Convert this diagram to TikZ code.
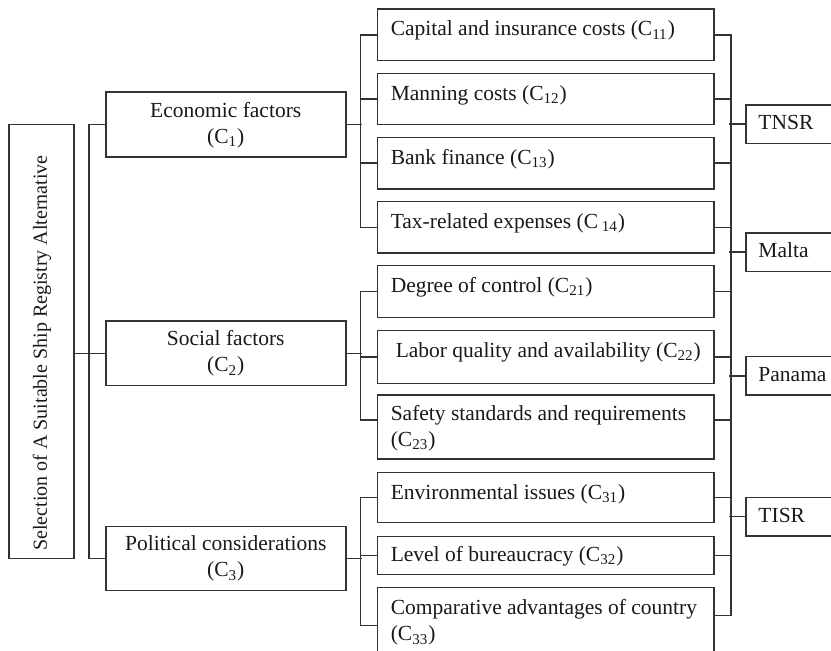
\documentclass[tikz,border=0pt]{standalone}
\usepackage{fontspec}
\setmainfont{Liberation Serif}
\usetikzlibrary{calc}
\newcommand{\figfont}{\fontsize{10.75pt}{13pt}\selectfont}
\newcommand{\rootfont}{\fontsize{10pt}{12pt}\selectfont}
\newcommand{\sbs}[1]{\textsubscript{#1}}
\begin{document}
\begin{tikzpicture}[x=0.5pt,y=-0.5pt,
  line width=0.75pt,
  box/.style={draw=black!80, line width=0.75pt, rectangle, inner sep=0pt, anchor=north west, text=black!90, font=\figfont},
  cbox/.style={box, minimum width=168.3pt, minimum height=#1*0.5pt},
  fbox/.style={box, minimum width=120pt, minimum height=#1*0.5pt, align=center},
  kbox/.style={box, minimum width=60pt, minimum height=19.2pt},
  lbl/.style={anchor=base west, inner sep=0pt, text=black!90, font=\figfont},
  conn/.style={draw=black!80, line width=0.75pt}
]
\useasboundingbox (0,0) rectangle (831,651);

% root
\node[box, minimum width=32.5pt, minimum height=217pt] (root) at (8.3,124) {};
\node[rotate=90, inner sep=0pt, text=black!90, font=\rootfont] (roottext) at (42,353) {Selection of A Suitable Ship Registry Alternative};

% factors
\node[fbox=65] (eco) at (105,91.5) {Economic factors\\(C\sbs{1})};
\node[fbox=64.5] (soc) at (105,320.5) {Social factors\\(C\sbs{2})};
\node[fbox=64] (pol) at (105,526) {Political considerations\\(C\sbs{3})};

% sub-criteria boxes
\node[cbox=51.7] (c11) at (376.7,8.3) {};
\node[cbox=51.3] (c12) at (376.7,72.7) {};
\node[cbox=51.6] (c13) at (376.7,136.7) {};
\node[cbox=51.3] (c14) at (376.7,201) {};
\node[cbox=51.7] (c21) at (376.7,265) {};
\node[cbox=52.7] (c22) at (376.7,330) {};
\node[cbox=64] (c23) at (376.7,394.3) {};
\node[cbox=50] (c31) at (376.7,471.7) {};
\node[cbox=38] (c32) at (376.7,536) {};
\node[cbox=76.6] (c33) at (376.7,586.7) {};

% sub-criteria texts
\node[lbl] (t11) at ($(c11.north west)+(13.3,27.7)$) {Capital and insurance costs (C\sbs{11})};
\node[lbl] (t12) at ($(c12.north west)+(13.3,27.7)$) {Manning costs (C\sbs{12})};
\node[lbl] (t13) at ($(c13.north west)+(13.3,27.7)$) {Bank finance (C\sbs{13})};
\node[lbl] (t14) at ($(c14.north west)+(13.3,27.7)$) {Tax-related expenses (C\,\sbs{14})};
\node[lbl] (t21) at ($(c21.north west)+(13.3,27.7)$) {Degree of control (C\sbs{21})};
\node[lbl] (t22) at ($(c22.north west)+(18.3,27.7)$) {Labor quality and availability (C\sbs{22})};
\node[lbl] (t23a) at ($(c23.north west)+(13.3,26.4)$) {Safety standards and requirements};
\node[lbl] (t23b) at ($(c23.north west)+(13.3,52.4)$) {(C\sbs{23})};
\node[lbl] (t31) at ($(c31.north west)+(13.3,27.6)$) {Environmental issues (C\sbs{31})};
\node[lbl] (t32) at ($(c32.north west)+(13.3,25.7)$) {Level of bureaucracy (C\sbs{32})};
\node[lbl] (t33a) at ($(c33.north west)+(13.3,28.3)$) {Comparative advantages of country};
\node[lbl] (t33b) at ($(c33.north west)+(13.3,54.3)$) {(C\sbs{33})};

% alternatives
\node[kbox] (tnsr) at (745,104.3) {};
\node[kbox] (malta) at (745,232.3) {};
\node[kbox] (panama) at (745,356) {};
\node[kbox] (tisr) at (745,496.7) {};
\node[lbl] (ttnsr) at ($(tnsr.north west)+(12.7,25.7)$) {TNSR};
\node[lbl] (tmalta) at ($(malta.north west)+(12.7,25.7)$) {Malta};
\node[lbl] (tpanama) at ($(panama.north west)+(12.7,25.7)$) {Panama};
\node[lbl] (ttisr) at ($(tisr.north west)+(12.7,25.7)$) {TISR};

% root to factors
\draw[conn] (eco.west) -- ++(-16,0) |- (pol.west);
\draw[conn] (root.east |- soc.west) -- (soc.west);

% factor to sub-criteria (left buses)
\draw[conn] (eco.east) -- ++(15.7,0);
\draw[conn] (c11.west) -- ++(-16,0) |- (c14.west);
\draw[conn] (c12.west) -- ++(-16,0);
\draw[conn] (c13.west) -- ++(-16,0);

\draw[conn] (soc.east) -- ++(15.7,0);
\draw[conn] (c21.west) -- ++(-16,0) |- ($(c23.west)+(0,-7)$);
\draw[conn] (c22.west) -- ++(-16,0);

\draw[conn] (pol.east) -- ++(15.7,0);
\draw[conn] (c31.west) -- ++(-16,0) |- (c33.west);
\draw[conn] (c32.west) -- ++(-16,0);

% right bus
\draw[conn] (c11.east) -- ++(16,0) |- ($(c33.east)+(0,-10)$);
\draw[conn] (c12.east) -- ++(16,0);
\draw[conn] (c13.east) -- ++(16,0);
\draw[conn] (c14.east) -- ++(16,0);
\draw[conn] (c21.east) -- ++(16,0);
\draw[conn] (c22.east) -- ++(16,0);
\draw[conn] ($(c23.east)+(0,-7)$) -- ++(16,0);
\draw[conn] (c31.east) -- ++(16,0);
\draw[conn] (c32.east) -- ++(16,0);

% alternatives connectors
\draw[conn] (tnsr.west) -- ++(-15.7,0);
\draw[conn] (malta.west) -- ++(-15.7,0);
\draw[conn] (panama.west) -- ++(-15.7,0);
\draw[conn] (tisr.west) -- ++(-15.7,0);
\end{tikzpicture}
\end{document}
